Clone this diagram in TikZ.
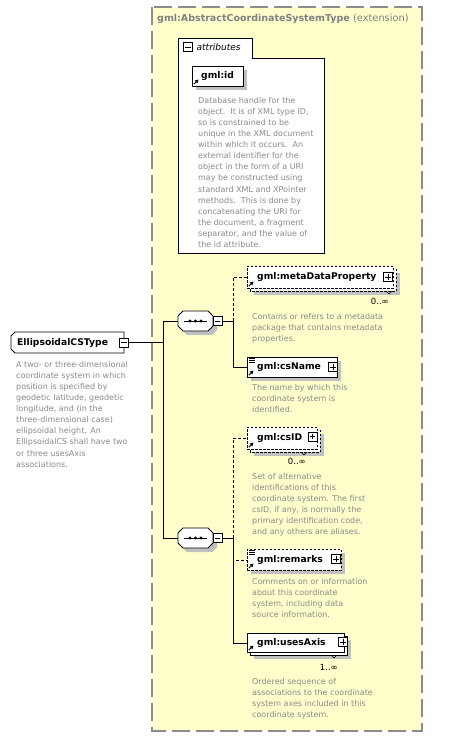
\documentclass[tikz,border=0pt]{standalone}
\usepackage{fontspec}
\setmainfont{DejaVu Sans}
\usetikzlibrary{arrows.meta}
\definecolor{ylw}{HTML}{FFFFCC}
\definecolor{bordergrey}{HTML}{8C8C8C}
\definecolor{shgrey}{HTML}{C0C0C0}
\definecolor{desctxt}{HTML}{8A8A8A}
\definecolor{titletxt}{HTML}{808080}
\newcommand\lblfont{\fontsize{9.2}{11}\selectfont\bfseries}
\newcommand\descfont{\fontsize{8}{11.1}\selectfont}
\newcommand\octpath[4]{(#1+5,#2) -- (#3-5,#2) -- (#3,#2+5) -- (#3,#4-5) -- (#3-5,#4) -- (#1+5,#4) -- (#1,#4-5) -- (#1,#2+5) -- cycle}
\newcommand\pmbox[4]{% name, x, y, plus?
  \node[pmb] (#1) at (#2,#3) {};
  \draw[line width=0.7pt] (#2-2.8,#3) -- (#2+2.8,#3);
  \ifx#4p\draw[line width=0.7pt] (#2,#3-2.8) -- (#2,#3+2.8);\fi}
\newcommand\refarrow[2]{\draw[line width=1pt,-{Triangle[length=3.4pt,width=3.6pt]}] (#1+1.8,#2-1.8) -- (#1+6.5,#2-6.5);}
\newcommand\simpleicon[2]{\draw[line width=0.6pt] (#1+2,#2+1.5) -- (#1+7.5,#2+1.5) (#1+2,#2+3.5) -- (#1+7.5,#2+3.5) (#1+2,#2+5.5) -- (#1+7.5,#2+5.5);}
\begin{document}
\begin{tikzpicture}[x=1pt,y=-1pt,
  ybox/.style={fill=ylw, draw=bordergrey, line width=1.5pt, dash pattern=on 18pt off 6pt},
  wbox/.style={draw=black, fill=white, line width=0.8pt, inner sep=0, rectangle},
  dbox/.style={wbox, dash pattern=on 2.5pt off 1.5pt},
  pmb/.style={draw=black, fill=white, line width=0.7pt, minimum size=9pt, inner sep=0, rectangle},
  lbl/.style={font=\lblfont, anchor=west, inner sep=0},
  desc/.style={anchor=north west, inner sep=0, align=left, text=desctxt, font=\descfont},
  conn/.style={line width=0.8pt},
  dconn/.style={conn, dash pattern=on 3pt off 2pt},
  card/.style={anchor=east, inner sep=0, font=\fontsize{8.5}{10}\selectfont},
  anchorbox/.style={rectangle, draw=none, inner sep=0}
]
\useasboundingbox (0,0) rectangle (464,737);
\fill[white] (0,0) rectangle (464,737);

% extension box
\draw[ybox] (152,7) rectangle (422,731);
\node[anchor=west, inner sep=0, text=titletxt, font=\fontsize{9.5}{11}\selectfont\bfseries] (title) at (157,19) {gml:AbstractCoordinateSystemType \fontsize{9.8}{11}\selectfont\mdseries(extension)};

% attributes
\draw[line width=0.8pt, fill=white] (178,38) -- (252,38) -- (252,58) -- (324,58) -- (324,253) -- (178,253) -- cycle;
\node[anchorbox, minimum width=146, minimum height=215, anchor=north west] (attrs) at (178,38) {};
\pmbox{attrpm}{188}{47}{m}
\node[anchor=west, inner sep=0, font=\fontsize{9}{11}\selectfont\itshape] (attrlbl) at (196.5,47) {attributes};

% gml:id
\fill[shgrey] (196,70) rectangle (247,90);
\node[wbox, anchor=north west, minimum width=51, minimum height=20] (id) at (192,66) {};
\node[lbl] (idlbl) at (201,76) {gml:id};
\refarrow{192}{86}
\node[desc] (iddesc) at (198,97) {Database handle for the\\object.\ \ It is of XML type ID,\\so is constrained to be\\unique in the XML document\\within which it occurs.\ \ An\\external identifier for the\\object in the form of a URI\\may be constructed using\\standard XML and XPointer\\methods.\ \ This is done by\\concatenating the URI for\\the document, a fragment\\separator, and the value of\\the id attribute.};

% root type
\draw[line width=0.8pt, fill=white] (15,332) -- (124,332) -- (124,353) -- (15,353) -- (11,349) -- (11,336) -- cycle;
\node[anchorbox, minimum width=113, minimum height=21, anchor=north west] (ecs) at (11,332) {};
\node[lbl] (ecslbl) at (17,342.5) {EllipsoidalCSType};
\pmbox{ecspm}{124}{342.5}{m}
\node[desc] (ecsdesc) at (16,361) {A two- or three-dimensional\\coordinate system in which\\position is specified by\\geodetic latitude, geodetic\\longitude, and (in the\\three-dimensional case)\\ellipsoidal height. An\\EllipsoidalCS shall have two\\or three usesAxis\\associations.};

\coordinate (sp1) at (163,321);
\coordinate (sp2) at (163,538);
\draw[conn] (ecspm.east) -- (ecspm.east -| sp1);
\draw[conn] (sp1) -- (sp2);

% sequence 1
\fill[shgrey] \octpath{182}{315}{217}{335};
\draw[line width=0.8pt, fill=white] \octpath{178}{311}{213}{331};
\node[anchorbox, minimum width=35, minimum height=20] (seq1) at (195.5,321) {};
\draw[line width=0.8pt] (184,321) -- (207,321);
\fill (190,321) circle (1.6) (195.5,321) circle (1.6) (201,321) circle (1.6);
\pmbox{seq1pm}{217.5}{321}{m}
\draw[conn] (sp1) -- (seq1.west);
\coordinate (br1) at (233,321);
\draw[conn] (seq1pm.east) -- (br1);

% metaDataProperty
\fill[shgrey] (254,273) rectangle (400,295);
\draw[dbox] (250,269) rectangle (396,291);
\draw[line width=0.6pt] (386,291) -- (389,294) -- (392,291);
\node[dbox, anchor=north west, minimum width=146, minimum height=22] (mdp) at (247,266) {};
\node[lbl] (mdplbl) at (257,277) {gml:metaDataProperty};
\refarrow{247}{288}
\pmbox{mdppm}{388}{277}{p}
\node[card] (mdpcard) at (389,301) {0..∞};
\node[desc] (mdpdesc) at (252,313) {Contains or refers to a metadata\\package that contains metadata\\properties.};
\draw[dconn] (br1) -- (br1 |- mdp.west) -- (mdp.west);

% csName
\fill[shgrey] (251,361) rectangle (341,381);
\node[wbox, anchor=north west, minimum width=90, minimum height=20] (csname) at (247,357) {};
\node[lbl] (csnamelbl) at (257,367) {gml:csName};
\simpleicon{247}{357}
\refarrow{247}{377}
\pmbox{csnamepm}{333}{367}{p}
\node[desc] (csnamedesc) at (252,384) {The name by which this\\coordinate system is\\identified.};
\draw[conn] (br1) -- (br1 |- csname.west) -- (csname.west);

% sequence 2
\fill[shgrey] \octpath{182}{532}{217}{552};
\draw[line width=0.8pt, fill=white] \octpath{178}{528}{213}{548};
\node[anchorbox, minimum width=35, minimum height=20] (seq2) at (195.5,538) {};
\draw[line width=0.8pt] (184,538) -- (207,538);
\fill (190,538) circle (1.6) (195.5,538) circle (1.6) (201,538) circle (1.6);
\pmbox{seq2pm}{217.5}{538}{m}
\draw[conn] (sp2) -- (seq2.west);
\coordinate (br2) at (233,538);
\draw[conn] (seq2pm.east) -- (br2);

% csID
\fill[shgrey] (254,434) rectangle (324,456);
\draw[dbox] (250,430) rectangle (320,452);
\draw[line width=0.6pt] (301,452) -- (304,455) -- (307,452);
\node[dbox, anchor=north west, minimum width=70, minimum height=22] (csid) at (247,427) {};
\node[lbl] (csidlbl) at (257,438) {gml:csID};
\refarrow{247}{449}
\pmbox{csidpm}{312.5}{436.5}{p}
\node[card] (csidcard) at (306,461) {0..∞};
\node[desc] (csiddesc) at (252,473) {Set of alternative\\identifications of this\\coordinate system. The first\\csID, if any, is normally the\\primary identification code,\\and any others are aliases.};
\draw[dconn] (br2) -- (br2 |- csid.west) -- (csid.west);

% remarks
\fill[shgrey] (251,553) rectangle (345,574);
\node[dbox, anchor=north west, minimum width=94, minimum height=21] (remarks) at (247,549) {};
\node[lbl] (remarkslbl) at (257,559.5) {gml:remarks};
\simpleicon{247}{549}
\refarrow{247}{570}
\pmbox{remarkspm}{336}{559}{p}
\node[desc] (remarksdesc) at (252,578) {Comments on or information\\about this coordinate\\system, including data\\source information.};
\draw[dconn] (br2) -- (br2 |- remarks.west) -- (remarks.west);

% usesAxis
\fill[shgrey] (254,640) rectangle (351,659);
\draw[wbox] (250,636) rectangle (347,655);
\draw[line width=0.6pt] (331,655) -- (334,658) -- (337,655);
\node[wbox, anchor=north west, minimum width=97, minimum height=19] (uses) at (247,633) {};
\node[lbl] (useslbl) at (257,642.5) {gml:usesAxis};
\refarrow{247}{652}
\pmbox{usespm}{343}{642}{p}
\node[card] (usescard) at (338,667) {1..∞};
\node[desc] (usesdesc) at (252,678) {Ordered sequence of\\associations to the coordinate\\system axes included in this\\coordinate system.};
\draw[conn] (br2) -- (br2 |- uses.west) -- (uses.west);
\end{tikzpicture}
\end{document}
